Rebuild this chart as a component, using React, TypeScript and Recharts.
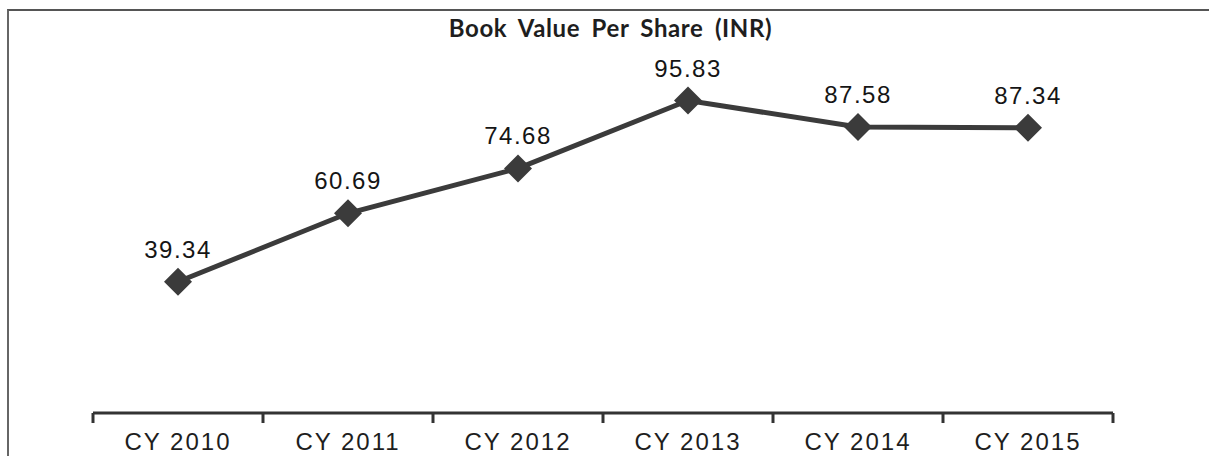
import { LineChart, Line, XAxis, YAxis, LabelList } from "recharts";

const years = ["CY 2010", "CY 2011", "CY 2012", "CY 2013", "CY 2014", "CY 2015"];
const bookValue = [39.34, 60.69, 74.68, 95.83, 87.58, 87.34];
const centerTicks = [0, 1, 2, 3, 4, 5];
const boundaryTicks = [-0.5, 0.5, 1.5, 2.5, 3.5, 4.5, 5.5];

const data = years.map((y, i) => ({ idx: i, year: y, value: bookValue[i] }));

const LINE = "#3b3b3b";
const FONT = "'Liberation Sans', Arial, sans-serif";

function Diamond(props: any) {
  const { cx, cy } = props;
  if (cx == null || cy == null) return null;
  const r = 14;
  return (
    <polygon
      points={`${cx},${cy - r} ${cx + r},${cy} ${cx},${cy + r} ${cx - r},${cy}`}
      fill={LINE}
    />
  );
}

export default function App() {
  return (
    <div style={{ position: "relative", width: 1209, height: 456, background: "#fff", overflow: "hidden" }}>
      <style>{`body{margin:0}`}</style>
      <div
        style={{
          position: "absolute",
          left: 7,
          top: 9,
          right: 0,
          bottom: 0,
          borderTop: "2px solid #555",
          borderLeft: "2px solid #666",
        }}
      />
      <div
        style={{
          position: "absolute",
          top: 13,
          left: 0,
          width: 1221,
          textAlign: "center",
          fontFamily: "Lato, 'Open Sans', sans-serif",
          fontWeight: 700,
          fontSize: 24,
          letterSpacing: 0.6,
          wordSpacing: 5,
          color: "#1e1e1e",
        }}
      >
        Book Value Per Share (INR)
      </div>
      <LineChart
        width={1209}
        height={456}
        data={data}
        margin={{ top: 23, right: 96, bottom: 0, left: 93 }}
        style={{ position: "absolute", left: 0, top: 0 }}
      >
        <XAxis
          xAxisId="bounds"
          dataKey="idx"
          type="number"
          domain={[-0.5, 5.5]}
          allowDataOverflow
          ticks={boundaryTicks}
          tickFormatter={() => ""}
          height={10}
          tickSize={10}
          axisLine={{ stroke: "#333", strokeWidth: 3 }}
          tickLine={{ stroke: "#333", strokeWidth: 3 }}
        />
        <XAxis
          xAxisId="labels"
          dataKey="idx"
          type="number"
          domain={[-0.5, 5.5]}
          allowDataOverflow
          ticks={centerTicks}
          interval={0}
          tickFormatter={(v: number) => years[v] ?? ""}
          height={33}
          tickSize={0}
          tickMargin={10}
          axisLine={false}
          tickLine={false}
          tick={{ fill: "#1e1e1e", fontSize: 24, fontFamily: FONT, letterSpacing: 2 }}
        />
        <YAxis hide domain={[0, 120]} padding={{ top: 0, bottom: 5 }} />
        <Line
          xAxisId="labels"
          dataKey="value"
          stroke={LINE}
          strokeWidth={5}
          dot={<Diamond />}
          activeDot={false}
          isAnimationActive={false}
        >
          <LabelList
            dataKey="value"
            position="top"
            offset={24}
            formatter={(v: any) => Number(v).toFixed(2)}
            style={{ fill: "#151515", fontSize: 24, fontFamily: FONT, letterSpacing: 1.5 }}
          />
        </Line>
      </LineChart>
    </div>
  );
}
